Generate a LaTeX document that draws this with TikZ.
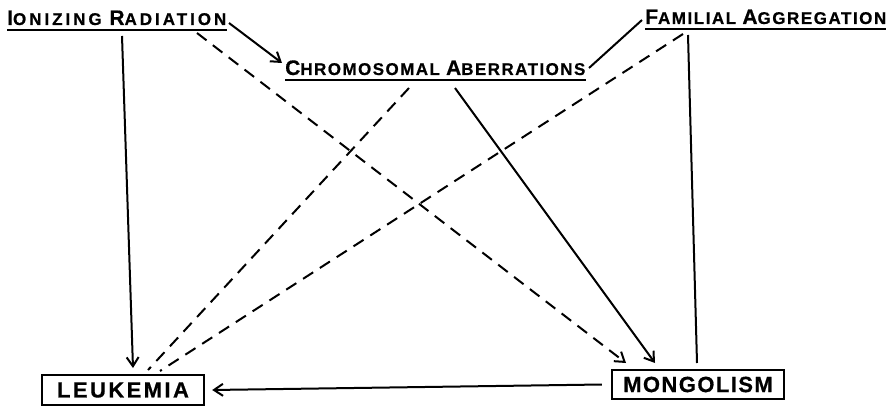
\documentclass[tikz,border=0pt]{standalone}
\usepackage{fontspec}
\setmainfont{Liberation Sans}[BoldFeatures={FakeBold=0.6}]
\usetikzlibrary{arrows.meta,calc}
\newcommand\BigInit[1]{{\fontsize{21pt}{20pt}\selectfont #1}}
\newcommand\SmSize{\fontsize{17pt}{17pt}\selectfont}
\newcommand\Spaced[1]{\addfontfeature{LetterSpace=#1}}
\begin{document}
\begin{tikzpicture}[x=1pt,y=-1pt,
  lab/.style={inner sep=0pt,font=\bfseries\SmSize},
  boxlab/.style={draw,line width=2.4pt,inner sep=0pt,font=\bfseries\fontsize{22pt}{20pt}\selectfont},
  conn/.style={line width=2pt},
  dconn/.style={line width=2pt,dash pattern=on 12pt off 8pt},
  tip/.style={-{Straight Barb[length=9pt,width=12pt,line width=2pt]}},
  uline/.style={line width=2.2pt}]
\useasboundingbox (0,0) rectangle (893,406);
\node[lab,anchor=base west] (ion) at (7,25) {\Spaced{17.5}\BigInit{I}ONIZING \BigInit{R}ADIATION};
\node[lab,anchor=base west] (chrom) at (285,75) {\Spaced{8.5}\BigInit{C}HROMOSOMAL \BigInit{A}BERRATIONS};
\node[lab,anchor=base west] (fam) at (645,24) {\Spaced{9}\BigInit{F}AMILIAL \BigInit{A}GGREGATION};
\node[boxlab,minimum width=162pt,minimum height=30pt] (leuk) at (123,390) {\Spaced{11}LEUKEMIA};
\node[boxlab,minimum width=172pt,minimum height=29pt] (mong) at (698,384.5) {\Spaced{6.5}MONGOLISM};
% underlines
\draw[uline] ([yshift=-5pt]ion.base west) -- ([yshift=-5pt]ion.base east);
\draw[uline] ([yshift=-5pt]chrom.base west) -- ([yshift=-5pt]chrom.base east);
\draw[uline] ([yshift=-5pt]fam.base west) -- ([yshift=-5pt]fam.base east);
% endpoints
\coordinate (ionV) at (122,36);
\coordinate (ionE) at (229,23);
\coordinate (ionD) at (197,33);
\coordinate (chrW) at (282,63);
\coordinate (chrE) at (589,68);
\coordinate (chrS) at (455,88);
\coordinate (chrD) at (409,88);
\coordinate (famW) at (642,20);
\coordinate (famD) at (683,34);
\coordinate (famV) at (688,35);
\coordinate (leukV) at (133,368);
\coordinate (leukD1) at (148,370);
\coordinate (leukD2) at (160,371);
\coordinate (mongD) at (626,363);
\coordinate (mongS) at (655,363);
\coordinate (mongV) at (697,363);
% connectors
\draw[conn,tip] (ionV) -- (leukV);
\draw[conn,tip] (ionE) -- (chrW);
\draw[dconn,tip] (ionD) -- (mongD);
\draw[conn,tip] (chrS) -- (mongS);
\draw[dconn] (chrD) -- (leukD1);
\draw[dconn] (famD) -- (leukD2);
\draw[conn] (famV) -- (mongV);
\draw[conn] (famW) -- (chrE);
\draw[conn,tip] ([xshift=-9pt]mong.west) -- ([xshift=7pt]leuk.east);
\end{tikzpicture}
\end{document}
